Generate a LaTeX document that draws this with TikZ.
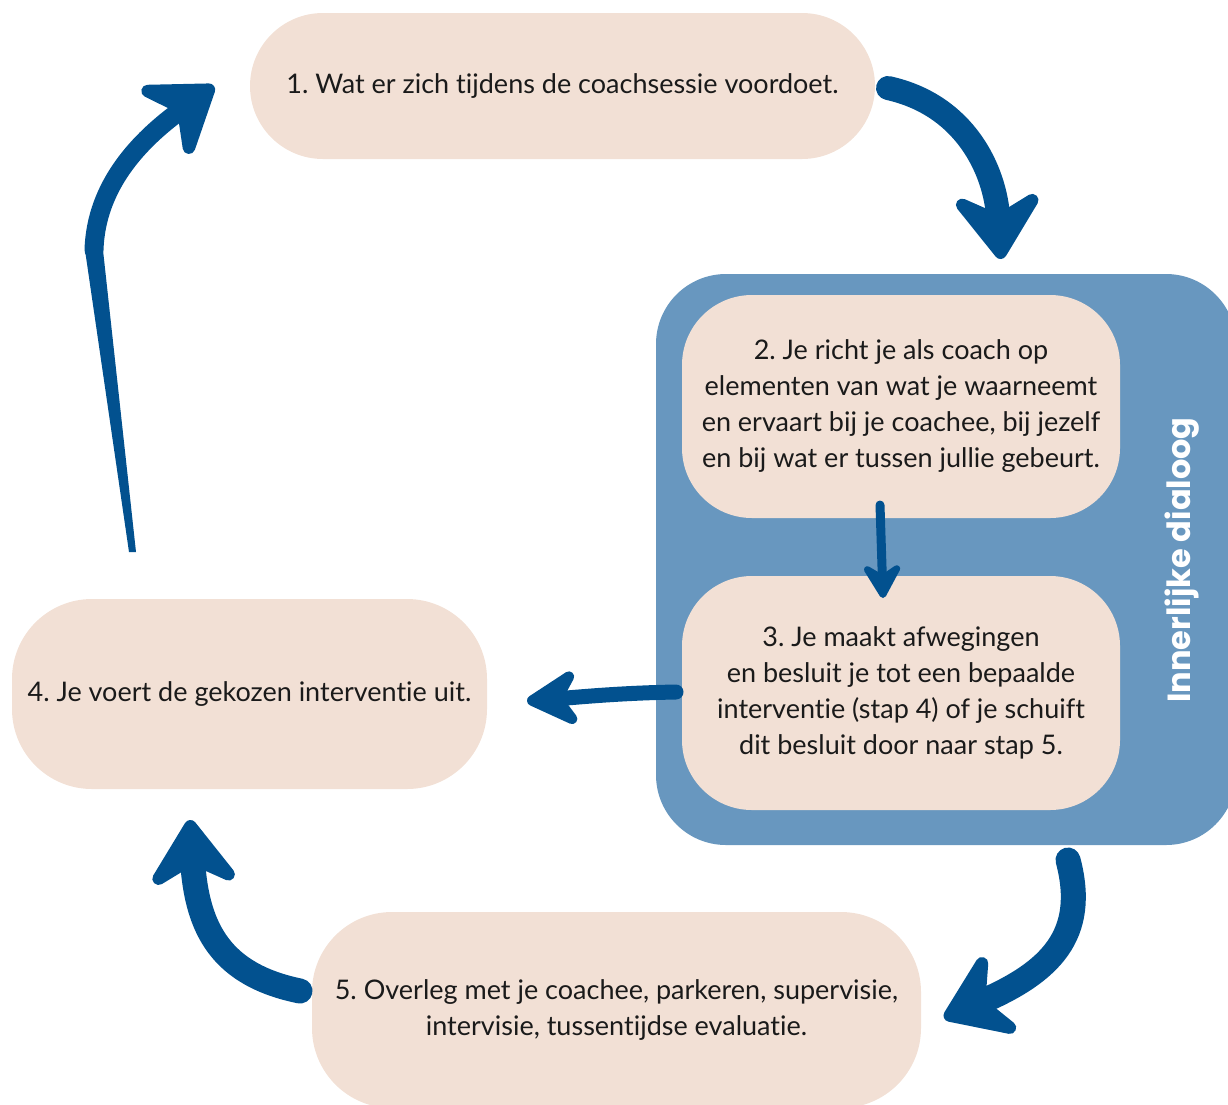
\documentclass[tikz,border=0pt]{standalone}
\usepackage{fontspec}
\setmainfont{Lato}[Ligatures=NoCommon]
\newfontfamily\titlefont{Poppins}
\usetikzlibrary{arrows.meta}
\definecolor{peach}{HTML}{F2E0D5}
\definecolor{panelc}{HTML}{6897BF}
\definecolor{arrowc}{HTML}{02518F}
\definecolor{textc}{HTML}{1A1A1A}
\frenchspacing
\begin{document}
\begin{tikzpicture}[x=1pt,y=-1pt,
  box/.style={fill=peach, draw=none, inner sep=0pt, align=center,
    font=\fontsize{27}{36}\selectfont, text=textc},
  flow/.style={draw=arrowc, line cap=round},
  bighead/.style={-{Stealth[length=78pt,width=108pt,inset=28pt,round]}},
]
\useasboundingbox (0,0) rectangle (1228,1104);
\clip (0,0) rectangle (1228,1104);
% panel
\node[fill=panelc, rounded corners=70pt, minimum width=580pt, minimum height=571pt, inner sep=0pt] (panel) at (946,559.5) {};
\node[rotate=90, text=white, font=\titlefont\bfseries\fontsize{32}{34}\selectfont] (title) at (1182,560) {Innerlijke dialoog};
% boxes
\node[box, rounded corners=73pt, minimum width=625pt, minimum height=146pt] (b1) at (562.5,86) {1. Wat er zich tijdens de coachsessie voordoet.};
\node[box, rounded corners=70pt, minimum width=438pt, minimum height=223pt] (b2) at (901,406.5) {2. Je richt je als coach op\\elementen van wat je waarneemt\\en ervaart bij je coachee, bij jezelf\\en bij wat er tussen jullie gebeurt.};
\node[box, rounded corners=70pt, minimum width=438pt, minimum height=234pt] (b3) at (901,693) {3. Je maakt afwegingen\\en besluit je tot een bepaalde\\interventie (stap 4) of je schuift\\dit besluit door naar stap 5.};
\node[box, rounded corners=80pt, minimum width=475pt, minimum height=190pt] (b4) at (249.5,694) {4. Je voert de gekozen interventie uit.};
\node[box, rounded corners=80pt, minimum width=609pt, minimum height=196pt] (b5) at (616.5,1010) {5. Overleg met je coachee, parkeren, supervisie,\\intervisie, tussentijdse evaluatie.};
% connector end points
\coordinate (a1s) at (888,88);   \coordinate (a1e) at (1001,259);
\coordinate (a2s) at (880,505);  \coordinate (a2e) at (883,598);
\coordinate (a3s) at (676,692);  \coordinate (a3e) at (527,701);
\coordinate (a4s) at (300,991);  \coordinate (a4e) at (190,820);
\coordinate (a5s) at (1068,860); \coordinate (a5e) at (944,1018);
\coordinate (a6s) at (132,550);  \coordinate (a6m) at (94,250); \coordinate (a6e) at (214,86);
% arrows
\draw[flow, bighead, line width=24pt] (a1s) .. controls (965,105) and (995,170) .. (a1e);
\draw[flow, line width=9pt, -{Stealth[length=42pt,width=48pt,inset=15pt,round]}] (a2s) -- (a2e);
\draw[flow, line width=15pt, -{Stealth[length=64pt,width=70pt,inset=22pt,round]}] (a3s) .. controls (620,693) and (580,697) .. (a3e);
\draw[flow, bighead, line width=25pt] (a4s) .. controls (222,975) and (197,930) .. (a4e);
\draw[flow, bighead, line width=25pt] (a5s) .. controls (1088,935) and (1050,972) .. (a5e);
\fill[arrowc] (129,552) -- (136,552) -- (103,250) -- (85,250) -- cycle;
\draw[flow, bighead, line width=19pt] (a6m) .. controls (96,185) and (140,140) .. (a6e);
\end{tikzpicture}
\end{document}
